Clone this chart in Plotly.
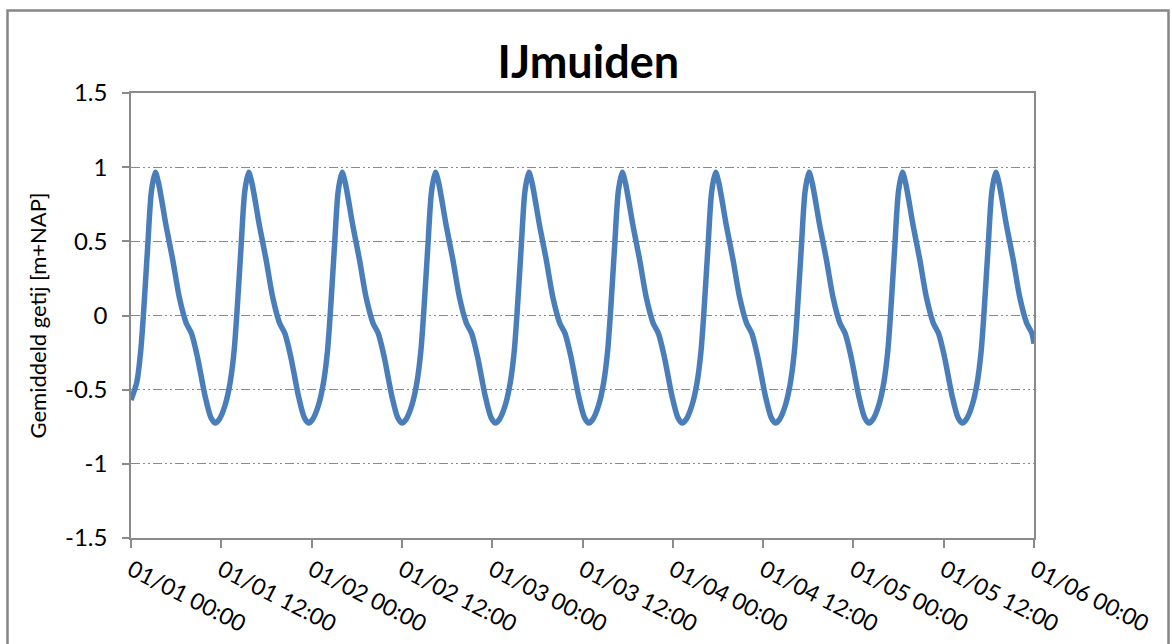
import plotly.graph_objects as go

# Time in hours since 01/01 00:00
hours = [
    0.00, 0.77, 1.27, 1.67, 2.20, 2.72,
    3.23, 3.63, 4.68, 5.53, 6.43, 7.33, 8.03, 8.83, 9.83, 10.63, 11.18, 11.73, 12.53, 13.18, 13.68, 14.08, 14.61, 15.13,
    15.64, 16.04, 17.09, 17.94, 18.84, 19.74, 20.44, 21.24, 22.24, 23.04, 23.59, 24.14, 24.94, 25.59, 26.09, 26.49, 27.02, 27.54,
    28.05, 28.45, 29.50, 30.35, 31.25, 32.15, 32.85, 33.65, 34.65, 35.45, 36.00, 36.55, 37.35, 38.00, 38.50, 38.90, 39.43, 39.95,
    40.46, 40.86, 41.91, 42.76, 43.66, 44.56, 45.26, 46.06, 47.06, 47.86, 48.41, 48.96, 49.76, 50.41, 50.91, 51.31, 51.84, 52.36,
    52.87, 53.27, 54.32, 55.17, 56.07, 56.97, 57.67, 58.47, 59.47, 60.27, 60.82, 61.37, 62.17, 62.82, 63.32, 63.72, 64.25, 64.77,
    65.28, 65.68, 66.73, 67.58, 68.48, 69.38, 70.08, 70.88, 71.88, 72.68, 73.23, 73.78, 74.58, 75.23, 75.73, 76.13, 76.66, 77.18,
    77.69, 78.09, 79.14, 79.99, 80.89, 81.79, 82.49, 83.29, 84.29, 85.09, 85.64, 86.19, 86.99, 87.64, 88.14, 88.54, 89.07, 89.59,
    90.10, 90.50, 91.55, 92.40, 93.30, 94.20, 94.90, 95.70, 96.70, 97.50, 98.05, 98.60, 99.40, 100.05, 100.55, 100.95, 101.48, 102.00,
    102.51, 102.91, 103.96, 104.81, 105.71, 106.61, 107.31, 108.11, 109.11, 109.91, 110.46, 111.01, 111.81, 112.46, 112.96, 113.36, 113.89, 114.41,
    114.92, 115.32, 116.37, 117.22, 118.12, 119.02, 119.72, 120.00,
]

# Water level [m+NAP]
level = [
    -0.57, -0.45, -0.25, 0.02, 0.45, 0.84,
    0.965, 0.90, 0.60, 0.38, 0.12, -0.05, -0.12, -0.28, -0.54, -0.69, -0.725, -0.70, -0.60, -0.45, -0.25, 0.02, 0.45, 0.84,
    0.965, 0.90, 0.60, 0.38, 0.12, -0.05, -0.12, -0.28, -0.54, -0.69, -0.725, -0.70, -0.60, -0.45, -0.25, 0.02, 0.45, 0.84,
    0.965, 0.90, 0.60, 0.38, 0.12, -0.05, -0.12, -0.28, -0.54, -0.69, -0.725, -0.70, -0.60, -0.45, -0.25, 0.02, 0.45, 0.84,
    0.965, 0.90, 0.60, 0.38, 0.12, -0.05, -0.12, -0.28, -0.54, -0.69, -0.725, -0.70, -0.60, -0.45, -0.25, 0.02, 0.45, 0.84,
    0.965, 0.90, 0.60, 0.38, 0.12, -0.05, -0.12, -0.28, -0.54, -0.69, -0.725, -0.70, -0.60, -0.45, -0.25, 0.02, 0.45, 0.84,
    0.965, 0.90, 0.60, 0.38, 0.12, -0.05, -0.12, -0.28, -0.54, -0.69, -0.725, -0.70, -0.60, -0.45, -0.25, 0.02, 0.45, 0.84,
    0.965, 0.90, 0.60, 0.38, 0.12, -0.05, -0.12, -0.28, -0.54, -0.69, -0.725, -0.70, -0.60, -0.45, -0.25, 0.02, 0.45, 0.84,
    0.965, 0.90, 0.60, 0.38, 0.12, -0.05, -0.12, -0.28, -0.54, -0.69, -0.725, -0.70, -0.60, -0.45, -0.25, 0.02, 0.45, 0.84,
    0.965, 0.90, 0.60, 0.38, 0.12, -0.05, -0.12, -0.28, -0.54, -0.69, -0.725, -0.70, -0.60, -0.45, -0.25, 0.02, 0.45, 0.84,
    0.965, 0.90, 0.60, 0.38, 0.12, -0.05, -0.12, -0.19,
]

x_tick_hours = [0, 12, 24, 36, 48, 60, 72, 84, 96, 108, 120]
x_tick_labels = ["01/01 00:00", "01/01 12:00", "01/02 00:00", "01/02 12:00",
                 "01/03 00:00", "01/03 12:00", "01/04 00:00", "01/04 12:00",
                 "01/05 00:00", "01/05 12:00", "01/06 00:00"]
y_tick_values = [-1.5, -1, -0.5, 0, 0.5, 1, 1.5]
y_tick_labels = ["-1.5", "-1", "-0.5", "0", "0.5", "1", "1.5"]

title_text = "IJmuiden"
y_title = "Gemiddeld getij [m+NAP]"

FONT = "Lato, 'Open Sans', sans-serif"
GRID = "#8a8a8a"

fig = go.Figure()
fig.add_trace(go.Scatter(
    x=hours, y=level, mode="lines",
    line=dict(color="#4a7ebb", width=5.5, shape="spline", smoothing=0.8),
    hoverinfo="skip", showlegend=False,
))

W, H = 1172, 644
L, R, T, B = 131, 138, 93, 106
pw, ph = W - L - R, H - T - B

def px(x):
    return (x - L) / pw

def py(y):
    return (H - B - y) / ph

fig.update_layout(
    width=W, height=H,
    margin=dict(l=L, r=R, t=T, b=B, autoexpand=False),
    paper_bgcolor="white", plot_bgcolor="white",
    font=dict(family=FONT, color="#000000", size=24),
    title=dict(text=f"<b>{title_text}</b>", x=0.502, xref="container", xanchor="center",
               y=1 - 62 / H, yref="container", yanchor="middle",
               font=dict(family=FONT, size=45, color="#000000")),
    xaxis=dict(
        range=[0, 120], tickmode="array", tickvals=x_tick_hours, ticktext=x_tick_labels,
        tickangle=27, ticks="outside", ticklen=8, tickcolor=GRID, tickwidth=1.5,
        showline=True, linecolor=GRID, linewidth=1.5, mirror=True,
        showgrid=False, zeroline=False, automargin=False,
        tickfont=dict(family=FONT, size=23, color="#000000"),
    ),
    yaxis=dict(
        range=[-1.5, 1.5], tickmode="array", tickvals=y_tick_values, ticktext=y_tick_labels,
        ticks="outside", ticklen=7, tickcolor=GRID, tickwidth=1.5, ticklabelstandoff=10,
        showline=True, linecolor=GRID, linewidth=1.5, mirror=True,
        showgrid=True, gridcolor=GRID, gridwidth=1.2, griddash="9px,3px,2px,3px,2px,3px",
        zeroline=False, automargin=False,
        tickfont=dict(family=FONT, size=24, color="#000000"),
        title=dict(text=y_title, font=dict(family=FONT, size=22, color="#000000"), standoff=12),
    ),
    shapes=[
        dict(type="rect", xref="paper", yref="paper",
             x0=px(7.5), x1=px(1168.5), y0=py(660), y1=py(10.5),
             line=dict(color="#868686", width=2.5), fillcolor="rgba(0,0,0,0)", layer="below"),
    ],
)

fig.write_html("out.html", config={"displayModeBar": False},
               post_script="document.body.style.margin='0';document.body.style.overflow='hidden';")
